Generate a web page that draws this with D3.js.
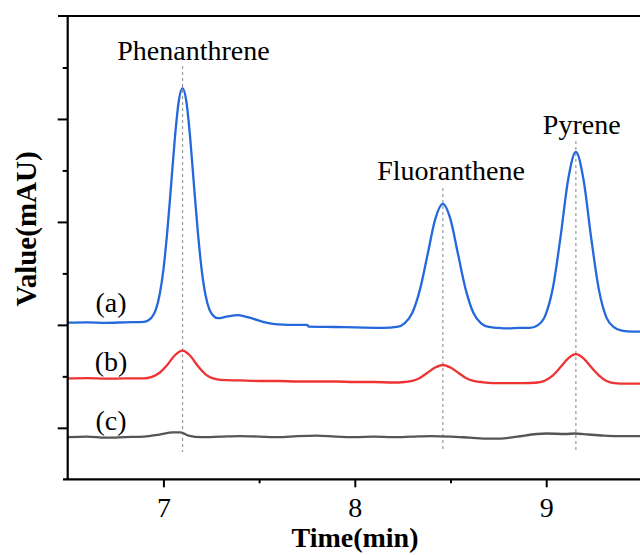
<!DOCTYPE html>
<html>
<head>
<meta charset="utf-8">
<script src="https://cdn.jsdelivr.net/npm/d3@7"></script>
<style>
  html, body { margin: 0; padding: 0; background: #fff; }
  svg { display: block; }
  text { font-family: "Liberation Serif", "Times New Roman", serif; fill: #000; }
</style>
</head>
<body>
<svg id="chart" width="640" height="555"></svg>
<script>
// ---- data ----
const compounds = ["Phenanthrene", "Fluoranthene", "Pyrene"];
const peakTimes = [7.10, 8.46, 9.155];
const seriesLabels = ["(a)", "(b)", "(c)"];
const xTickValues = [7, 8, 9];
const xMinorTicks = [7.5, 8.5];
const yMajorTicks = [-20, 0, 20, 40];
const yMinorTicks = [-10, 10, 30, 50];

const seriesA = [ // blue
  [6.5,0.45],[6.6,0.5],[6.7,0.4],[6.8,0.5],[6.9,0.6],[6.92,0.85],[6.94,1.5],[6.96,2.9],[6.98,5.8],
  [7.00,10.7],[7.02,18.0],[7.04,27.0],[7.06,36.3],[7.08,43.4],[7.10,46.0],[7.12,43.4],[7.14,36.3],
  [7.16,27.0],[7.18,18.0],[7.20,10.7],[7.22,5.8],[7.24,3.0],[7.26,1.8],[7.285,1.3],[7.33,1.6],
  [7.39,1.9],[7.45,1.4],[7.52,0.6],[7.60,0.1],[7.70,0.0],[7.75,0.0],[7.76,-0.35],[7.85,-0.4],
  [7.95,-0.45],[8.05,-0.55],[8.15,-0.6],[8.22,-0.4],[8.26,0.3],[8.30,2.3],[8.34,6.8],[8.38,13.6],
  [8.42,20.5],[8.46,23.5],[8.50,20.5],[8.54,13.6],[8.58,6.8],[8.62,2.3],[8.66,0.3],[8.70,-0.4],
  [8.75,-0.6],[8.80,-0.7],[8.86,-0.6],[8.915,-0.6],[8.955,-0.1],[8.995,1.8],[9.035,7.2],[9.075,17.1],
  [9.115,28.3],[9.155,33.6],[9.195,28.2],[9.235,16.9],[9.275,6.9],[9.315,1.4],[9.355,-0.5],
  [9.395,-1.1],[9.45,-1.3],[9.5,-1.3]
];
const seriesB = [ // red
  [6.5,-10.4],[6.6,-10.35],[6.7,-10.45],[6.8,-10.4],[6.9,-10.4],[6.94,-10.1],[6.98,-9.3],[7.02,-7.8],
  [7.06,-5.9],[7.10,-5.0],[7.14,-6.0],[7.18,-8.0],[7.22,-9.6],[7.26,-10.4],[7.30,-10.7],[7.40,-10.8],
  [7.5,-10.9],[7.6,-10.9],[7.7,-11.0],[7.8,-11.0],[7.9,-11.0],[8.0,-11.1],[8.1,-11.1],[8.2,-11.2],
  [8.26,-11.1],[8.30,-10.9],[8.34,-10.3],[8.38,-9.3],[8.42,-8.3],[8.46,-7.8],[8.50,-8.3],[8.54,-9.3],
  [8.58,-10.3],[8.62,-10.9],[8.66,-11.1],[8.72,-11.3],[8.8,-11.3],[8.88,-11.3],[8.955,-11.2],
  [8.995,-10.8],[9.035,-9.8],[9.075,-8.2],[9.115,-6.5],[9.155,-5.7],[9.195,-6.5],[9.235,-8.2],
  [9.275,-9.8],[9.315,-10.9],[9.355,-11.3],[9.42,-11.4],[9.5,-11.4]
];
const seriesC = [ // grey
  [6.5,-21.8],[6.6,-21.7],[6.7,-21.9],[6.8,-21.8],[6.9,-21.7],[6.98,-21.3],[7.05,-20.9],[7.09,-20.9],
  [7.13,-21.5],[7.2,-21.8],[7.3,-21.7],[7.4,-21.6],[7.5,-21.7],[7.6,-21.8],[7.7,-21.6],[7.8,-21.5],
  [7.9,-21.7],[8.0,-21.8],[8.1,-21.7],[8.2,-21.8],[8.3,-21.7],[8.4,-21.6],[8.5,-21.7],[8.6,-21.9],
  [8.7,-22.1],[8.76,-22.1],[8.85,-21.7],[8.95,-21.2],[9.0,-21.1],[9.1,-21.2],[9.15,-21.1],[9.22,-21.3],
  [9.3,-21.5],[9.4,-21.6],[9.5,-21.6]
];
const seriesData = [seriesA, seriesB, seriesC];
const seriesColors = ["#2468dc", "#ee3333", "#555555"];

// ---- layout ----
const svg = d3.select("#chart");
const x = d3.scaleLinear().domain([6.5, 9.5]).range([67.7, 641.9]);
const y = d3.scaleLinear().domain([-30, 60]).range([479.3, 16]);

// dashed guide lines
const labelBaselines = [60, 180, 134];
const labelCenters = [193.5, 451, 581.7];
const guideTops = [66, 188, 141];
svg.append("g").selectAll("line").data(peakTimes).join("line")
  .attr("x1", d => x(d)).attr("x2", d => x(d))
  .attr("y1", (d, i) => guideTops[i]).attr("y2", 452)
  .attr("stroke", "#9a9a9a").attr("stroke-width", 1.2).attr("stroke-dasharray", "3,3");

// curves
const line = d3.line().x(d => x(d[0])).y(d => y(d[1])).curve(d3.curveMonotoneX);
svg.append("g").selectAll("path").data(seriesData).join("path")
  .attr("d", line).attr("fill", "none")
  .attr("stroke", (d, i) => seriesColors[i]).attr("stroke-width", 2.3)
  .attr("stroke-linejoin", "round");

// axes
const axisStyle = g => {
  g.select(".domain").remove();
  g.attr("font-family", null);
  g.selectAll(".tick line").attr("stroke", "#000").attr("stroke-width", 2);
};
svg.append("g").attr("transform", `translate(${x(6.5)},0)`)
  .call(d3.axisLeft(y).tickValues(yMajorTicks).tickSize(10).tickFormat(""))
  .call(axisStyle);
svg.append("g").attr("transform", `translate(${x(6.5)},0)`)
  .call(d3.axisLeft(y).tickValues(yMinorTicks).tickSize(5).tickFormat(""))
  .call(axisStyle);
const xAxis = svg.append("g").attr("transform", `translate(0,${y(-30)})`)
  .call(d3.axisBottom(x).tickValues(xTickValues).tickSize(8).tickFormat(d3.format("d")))
  .call(axisStyle);
xAxis.selectAll(".tick text").attr("font-size", 28).attr("font-family", "Liberation Serif")
  .attr("dy", null).attr("y", 38);
svg.append("g").attr("transform", `translate(0,${y(-30)})`)
  .call(d3.axisBottom(x).tickValues(xMinorTicks).tickSize(4).tickFormat(""))
  .call(axisStyle);

// frame lines
svg.append("line").attr("x1", x(6.5)).attr("x2", x(6.5)).attr("y1", y(60)).attr("y2", y(-30))
  .attr("stroke", "#000").attr("stroke-width", 2.2);
svg.append("line").attr("x1", 63).attr("x2", 640).attr("y1", y(-30)).attr("y2", y(-30))
  .attr("stroke", "#000").attr("stroke-width", 2.2);
svg.append("line").attr("x1", 58).attr("x2", 640).attr("y1", y(60)).attr("y2", y(60))
  .attr("stroke", "#000").attr("stroke-width", 2.2);

// compound labels
svg.append("g").selectAll("text").data(compounds).join("text")
  .attr("x", (d, i) => labelCenters[i]).attr("y", (d, i) => labelBaselines[i])
  .attr("text-anchor", "middle").attr("font-size", 28).text(d => d);

// series labels
const seriesLabelY = [312, 371, 430];
svg.append("g").selectAll("text").data(seriesLabels).join("text")
  .attr("x", 111).attr("y", (d, i) => seriesLabelY[i])
  .attr("text-anchor", "middle").attr("font-size", 28).text(d => d);

// axis titles
svg.append("text").attr("x", 355).attr("y", 547).attr("text-anchor", "middle")
  .attr("font-size", 28).attr("font-weight", "bold").text("Time(min)");
svg.append("text").attr("transform", "translate(36,229) rotate(-90)")
  .attr("text-anchor", "middle").attr("font-size", 29).attr("font-weight", "bold")
  .text("Value(mAU)");
</script>
</body>
</html>
